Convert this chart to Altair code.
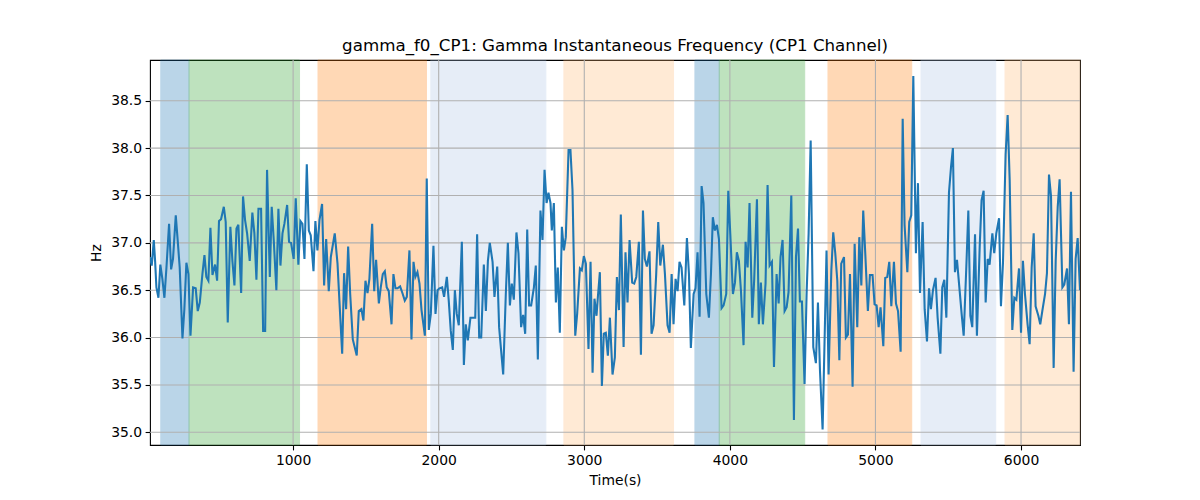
import altair as alt
import pandas as pd

# ---- line data (time in s, frequency in Hz) ----
t1 = [17,29,43,52,61,75,88,102,116,130,148,162,175,194,208,221,240,253,267,281,
      295,313,331,345,359,377,391,404,418,432,446,464,478,491,505,524,537,551,569,583,
      597,611,624,643,656,670,684,702,720,734,748,762,780,794,808,821,840,853,867,885,
      899,913,927,940,959,972,986,1004,1018,1036,1050,1064,1078]
v1 = [36.85,36.76,37.03,36.81,36.53,36.42,36.77,36.62,36.42,36.74,37.20,36.72,36.83,37.29,37.01,36.74,35.99,36.30,36.79,36.67,
      36.02,36.53,36.52,36.28,36.37,36.67,36.87,36.64,36.60,37.16,36.66,36.77,36.60,37.23,37.25,37.38,37.22,36.16,37.17,36.81,
      36.55,37.15,37.19,36.47,37.49,37.24,37.10,36.81,37.32,37.10,36.61,37.36,37.36,36.07,36.07,37.77,36.64,37.38,37.03,36.50,
      37.36,36.76,37.10,37.20,37.40,37.01,37.00,36.83,37.47,36.77,37.23,37.20,36.83]

t2 = [1094,1108,1121,1140,1153,1167,1181,1199,1213,1227,1245,1259,1286,1305,1318,1337,1350,1364,1378,1392,
      1410,1437,1451,1469,1483,1497,1511,1524,1543,1557,1570,1589,1602,1616,1630,1643,1657,1676,1689,1703,
      1717,1735,1753,1767,1781,1799,1813,1827,1840,1854,1868,1882,1895,1905,1918,1932,1946,1964,1978,1992,
      2005,2024,2037,2056,2069,2083,2097,2111,2124,2138]
v2 = [37.83,37.13,37.08,36.70,37.23,36.92,37.24,37.41,36.55,37.04,36.49,36.85,37.10,36.78,36.39,35.83,36.68,36.30,36.96,36.46,
      35.98,35.81,36.28,36.30,36.18,36.60,36.47,36.62,37.20,36.49,36.82,36.36,36.53,36.67,36.70,36.53,36.49,36.14,36.67,36.52,
      36.52,36.54,36.46,36.39,36.43,36.92,35.98,36.80,36.64,36.69,36.57,36.29,36.14,36.02,37.68,36.08,36.25,36.97,36.25,36.50,
      36.52,36.53,36.43,36.64,36.39,36.07,35.87,36.50,36.25,36.13]

t3 = [2159,2173,2186,2200,2218,2232,2251,2264,2278,2292,2310,2324,2338,2351,2370,2383,2402,2415,2429,2443,
      2461,2475,2489,2502,2516,2534,2548,2566,2580,2594,2608,2621,2635,2654,2667,2681,2699,2713,2727,2741,
      2754,2768,2777,2791,2805,2818,2832,2846,2860,2873,2892,2905,2919,2938,2951,2970,2983,2997,3011,3029,
      3043,3057,3070,3084,3093,3107,3121,3134,3148,3162,3176,3194]
v3 = [37.01,35.71,36.14,35.97,36.21,36.21,36.21,37.09,36.00,36.00,36.77,36.28,36.81,37.00,36.80,36.43,36.75,36.11,35.86,35.61,
      36.46,37.00,36.34,36.57,36.40,37.11,36.89,36.11,36.24,36.04,37.14,36.34,36.34,36.53,36.76,35.77,37.34,37.03,37.77,37.42,
      37.53,37.42,37.13,37.42,36.37,36.74,36.05,37.17,36.92,37.06,37.98,37.98,37.56,36.02,36.25,36.73,36.71,36.86,36.78,35.88,
      36.80,35.63,36.41,36.23,36.42,36.69,35.49,36.04,36.05,35.81,36.21,35.61]

t4 = [3210,3224,3238,3251,3270,3283,3297,3311,3329,3343,3357,3375,3389,3403,3416,3430,3448,3462,3476,3494,
      3508,3522,3540,3554,3572,3586,3600,3613,3627,3641,3654,3668,3687,3705,3719,3732,3751,3764,3778,3792,
      3806,3819,3838,3856,3870,3883,3897,3911,3925,3943,3957,3975,3989,4003,4021,4035,4048,4062,4076,4094,
      4108,4122,4135,4154,4167,4186,4199,4213,4227,4245,4259,4273]
v4 = [35.79,36.64,36.29,37.30,35.90,36.90,36.37,37.03,36.58,36.57,36.64,37.01,35.82,37.34,36.83,36.75,36.91,36.04,36.13,36.67,
      37.22,36.76,36.98,36.67,36.13,36.05,36.67,36.14,36.62,36.49,36.80,36.74,36.34,37.05,36.67,35.89,36.46,36.52,36.90,36.22,
      37.60,37.42,36.46,36.21,36.67,37.27,37.13,37.19,37.04,36.31,36.34,36.46,37.55,37.09,36.46,36.58,36.90,36.81,36.50,35.92,
      37.01,36.74,37.42,36.21,36.61,37.46,36.14,36.58,36.14,36.57,37.61,36.76]

t5 = [4289,4303,4321,4335,4348,4362,4376,4390,4403,4422,4440,4454,4468,4481,4495,4513,4527,4541,4555,4573,
      4591,4605,4619,4637,4651,4664,4678,4697,4710,4724,4738,4752,4765,4784,4797,4811,4825,4843,4857,4875,
      4889,4903,4916,4930,4948,4962,4980,4994,5008,5022,5035,5054,5067,5081,5095,5109,5127,5141,5155,5173,
      5187,5200,5219,5232,5246,5260,5278,5292,5306,5324,5338]
v5 = [36.80,35.69,36.67,36.36,36.85,37.03,36.28,36.32,36.48,37.50,35.13,36.85,37.15,36.38,36.38,35.51,36.46,37.10,38.08,35.90,
      35.73,36.37,35.65,35.03,36.00,36.92,35.61,36.71,37.11,36.89,36.60,35.76,36.78,36.85,36.00,36.03,36.67,35.48,36.99,36.11,
      37.06,36.55,37.34,36.89,36.28,36.66,36.66,36.35,36.34,36.11,36.32,35.91,36.63,36.64,36.80,36.33,36.80,36.36,36.28,35.85,
      38.31,37.19,36.69,37.22,37.29,38.76,36.89,37.63,36.47,37.22,36.30]

t6 = [5354,5368,5381,5395,5413,5427,5446,5459,5473,5487,5505,5519,5532,5546,5560,5578,5592,5606,5624,5638,
      5652,5665,5684,5697,5716,5729,5743,5757,5771,5784,5803,5816,5830,5849,5862,5876,5894,5908,5922,5940,
      5954,5968,5986,6000,6013,6027,6045,6059,6073,6087,6100,6119,6132,6146,6165,6178,6192,6206,6224,6238,
      6252,6265,6284,6297,6316,6329,6343,6361,6375,6389,6405]
v6 = [35.96,36.52,36.30,36.50,36.63,36.21,35.83,36.53,36.61,36.21,37.53,37.80,38.00,36.69,36.82,36.50,36.25,36.02,36.74,37.34,
      36.23,36.11,37.09,36.02,36.96,37.45,37.55,36.37,36.83,36.77,37.10,36.89,37.10,37.26,36.33,36.79,37.93,38.35,37.66,36.08,
      36.42,36.40,36.73,36.05,36.81,36.46,36.14,35.93,36.74,37.10,36.33,36.23,36.14,36.28,36.46,36.68,37.72,37.49,35.68,36.81,
      37.38,37.67,36.53,36.56,36.73,36.14,37.54,35.64,36.83,37.05,36.50]

# ---- shaded intervals ----
span_start = [91, 285, 1171, 1946, 2860, 3760, 3927, 4674, 5313, 5890]
span_end = [285, 1044, 1916, 2736, 3613, 3927, 4514, 5249, 5826, 6405]
span_phase = ["A", "B", "C", "D", "E", "A", "B", "C", "D", "E"]
phase_names = ["A", "B", "C", "D", "E"]
phase_colors = ["#1f77b4", "#2ca02c", "#ff7f0e", "#aec7e8", "#ffbb78"]

# ---- ticks ----
x_ticks = [1000, 2000, 3000, 4000, 5000, 6000]
y_ticks = [35.0, 35.5, 36.0, 36.5, 37.0, 37.5, 38.0, 38.5]
x_domain = [17, 6405]
y_domain = [34.866, 38.93]

time = t1 + t2 + t3 + t4 + t5 + t6
hz = v1 + v2 + v3 + v4 + v5 + v6
df_line = pd.DataFrame({"time": time, "hz": hz})
df_span = pd.DataFrame({"start": span_start, "end": span_end, "phase": span_phase})
df_xt = pd.DataFrame({"t": x_ticks})
df_yt = pd.DataFrame({"v": y_ticks})

FONT = "DejaVu Sans"
x_scale = alt.Scale(domain=x_domain, nice=False, zero=False)
y_scale = alt.Scale(domain=y_domain, nice=False, zero=False)
phase_scale = alt.Scale(domain=phase_names, range=phase_colors)

axis_common = dict(
    grid=False, domain=False, tickColor="black", tickSize=4.9, tickWidth=1.1,
    labelFont=FONT, labelFontSize=13.9, labelColor="black", labelPadding=3.5,
    titleFont=FONT, titleFontSize=13.9, titleFontWeight="normal", titleColor="black",
    labelFlush=False, labelOverlap=False,
)
x_axis = alt.Axis(title="Time(s)", values=x_ticks, format="d", titlePadding=6, **axis_common)
y_axis = alt.Axis(title="Hz", values=y_ticks, format=".1f", titlePadding=7, **axis_common)

spans = alt.Chart(df_span).mark_rect(opacity=0.3, strokeWidth=1).encode(
    x=alt.X("start:Q", scale=x_scale, axis=x_axis),
    x2="end:Q",
    color=alt.Color("phase:N", scale=phase_scale, legend=None),
    stroke=alt.Stroke("phase:N", scale=phase_scale, legend=None),
)

xgrid = alt.Chart(df_xt).mark_rule(color="#b0b0b0", strokeWidth=1.1).encode(
    x=alt.X("t:Q", scale=x_scale, axis=x_axis)
)
ygrid = alt.Chart(df_yt).mark_rule(color="#b0b0b0", strokeWidth=1.1).encode(
    y=alt.Y("v:Q", scale=y_scale, axis=y_axis)
)

line = alt.Chart(df_line).mark_line(color="#1f77b4", strokeWidth=2.08, clip=True).encode(
    x=alt.X("time:Q", scale=x_scale, axis=x_axis),
    y=alt.Y("hz:Q", scale=y_scale, axis=y_axis),
)

chart = alt.layer(spans, xgrid, ygrid, line).properties(
    width=930,
    height=385,
    title=alt.TitleParams(
        "gamma_f0_CP1: Gamma Instantaneous Frequency (CP1 Channel)",
        font=FONT, fontSize=16.7, fontWeight="normal", color="black",
        anchor="middle", offset=-8, baseline="alphabetic",
    ),
    autosize=alt.AutoSizeParams(type="none"),
    padding={"left": 142, "top": 52, "right": 110, "bottom": 45},
).configure_view(stroke="black", strokeWidth=1.1)

chart.save("out.html", embed_options={"renderer": "svg", "actions": False})
